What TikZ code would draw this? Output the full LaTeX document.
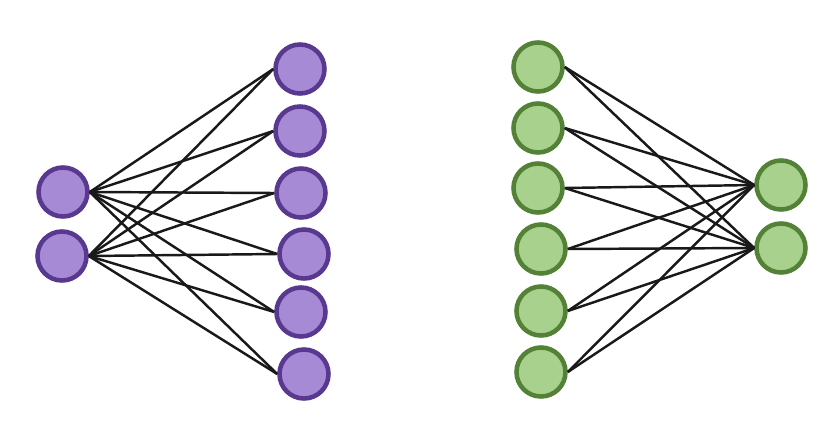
\documentclass[tikz,border=0pt]{standalone}
\definecolor{purplefill}{HTML}{A68AD6}
\definecolor{purpleline}{HTML}{59398F}
\definecolor{greenfill}{HTML}{A9D18E}
\definecolor{greenline}{HTML}{538135}
\tikzset{
  purplenode/.style={circle, draw=purpleline, fill=purplefill, line width=2.6pt, minimum size=0.98cm, inner sep=0pt},
  greennode/.style={circle, draw=greenline, fill=greenfill, line width=2.6pt, minimum size=0.98cm, inner sep=0pt},
  wire/.style={line width=1.4pt, black!90}
}
\begin{document}
\begin{tikzpicture}[x=0.02cm, y=-0.02cm]
    \useasboundingbox (0,0) rectangle (840,440);
    % purple part
    \node[purplenode] (in1) at (63,192) {};
    \node[purplenode] (in2) at (62,256) {};
    \node[purplenode] (h1) at (300,69) {};
    \node[purplenode] (h2) at (300,131) {};
    \node[purplenode] (h3) at (301,193) {};
    \node[purplenode] (h4) at (304,254) {};
    \node[purplenode] (h5) at (301,312) {};
    \node[purplenode] (h6) at (304,374) {};
    \foreach \i in {1,2}
      \foreach \j in {1,...,6}
        \draw[wire] (in\i.east) -- (h\j.west);
    % green part
    \node[greennode] (g1) at (538,67) {};
    \node[greennode] (g2) at (538,128) {};
    \node[greennode] (g3) at (538,188) {};
    \node[greennode] (g4) at (541,249) {};
    \node[greennode] (g5) at (541,311) {};
    \node[greennode] (g6) at (541,372) {};
    \node[greennode] (out1) at (781,185) {};
    \node[greennode] (out2) at (781,248) {};
    \foreach \i in {1,...,6}
      \foreach \j in {1,2}
        \draw[wire] (g\i.east) -- (out\j.west);
\end{tikzpicture}
\end{document}
